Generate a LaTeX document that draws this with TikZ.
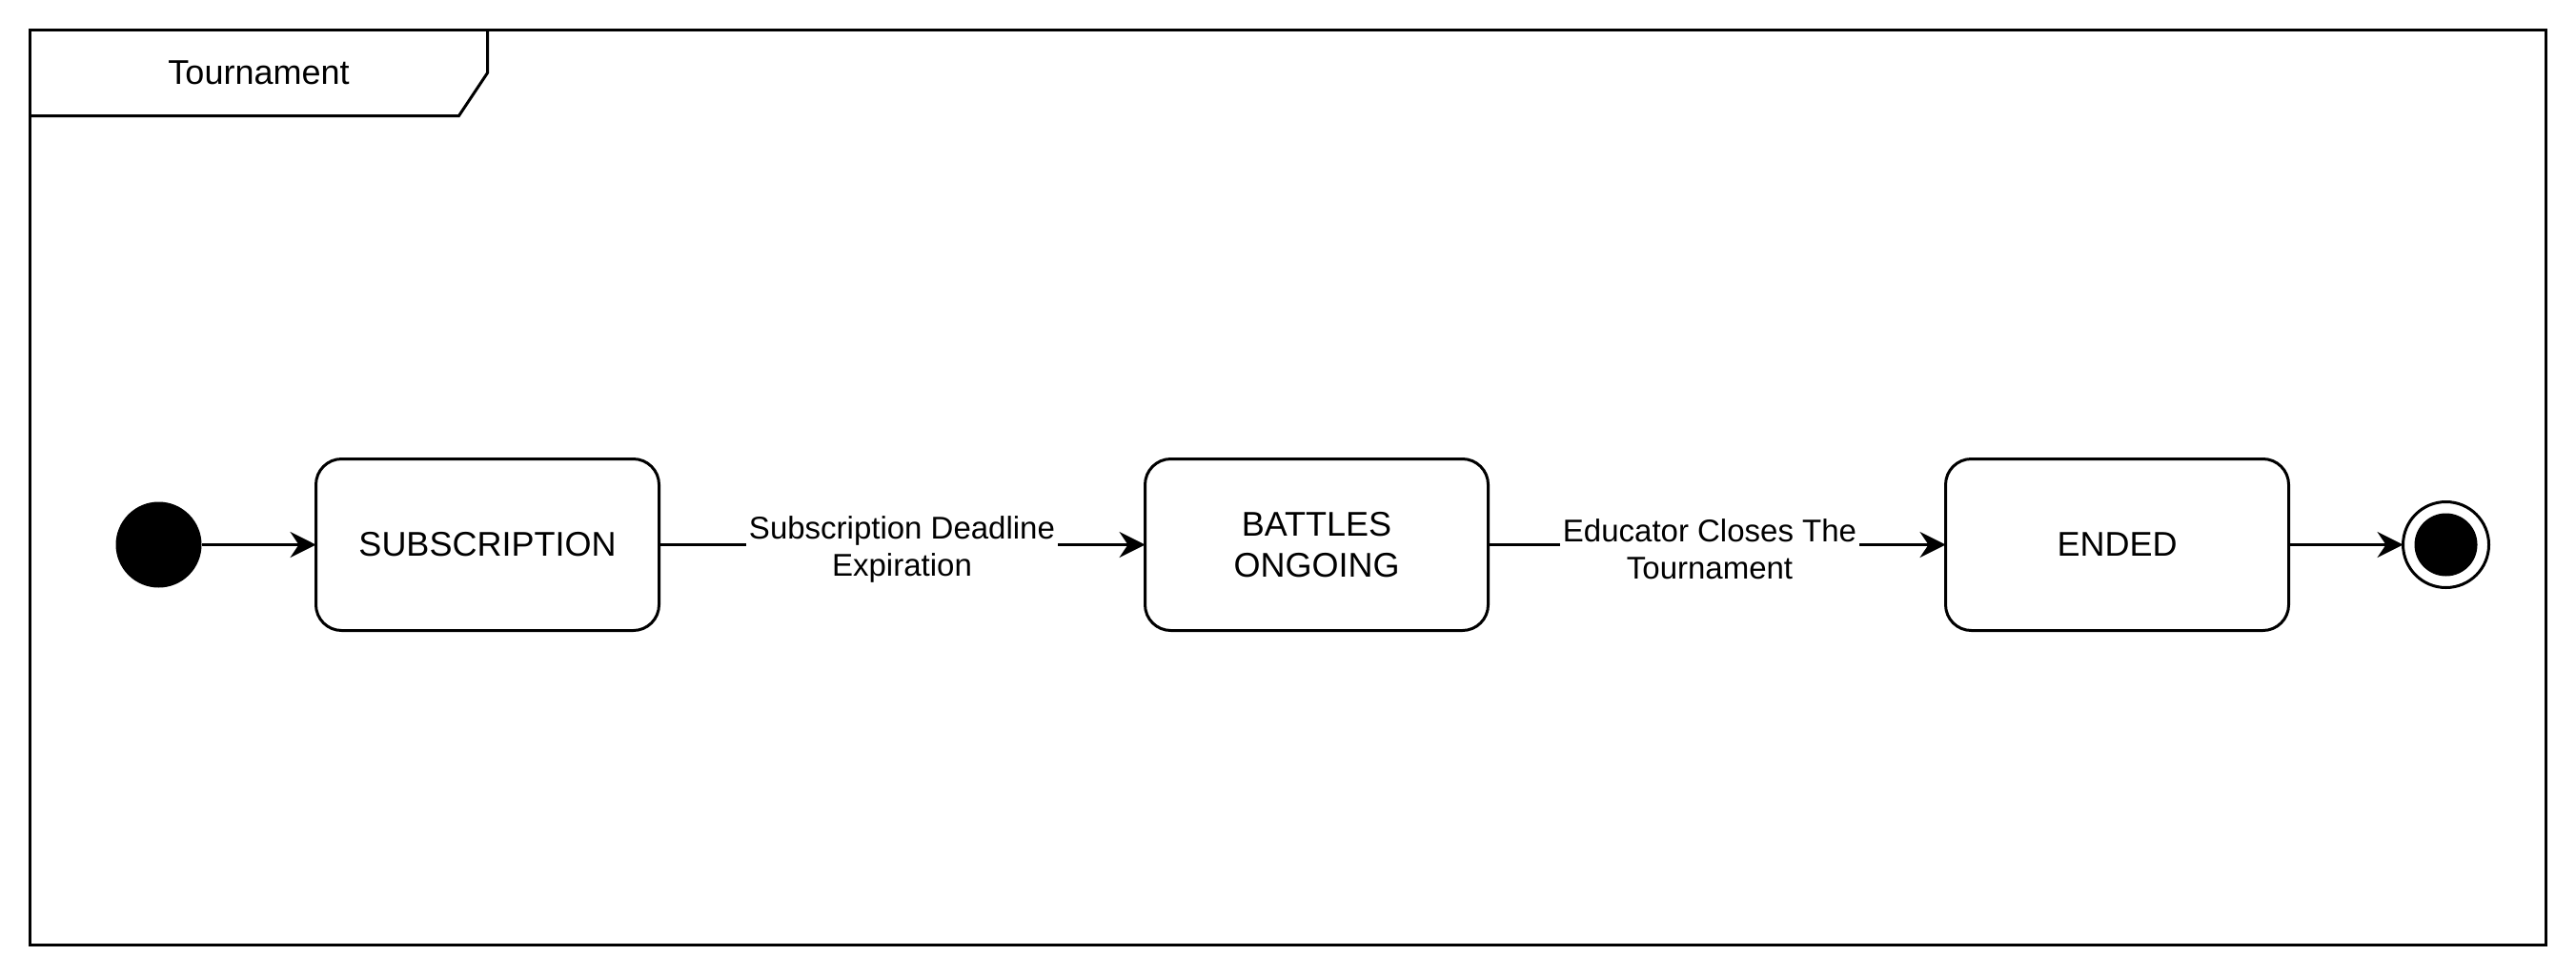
\documentclass[tikz,border=0pt]{standalone}
\usepackage{fontspec}
\setmainfont{Liberation Sans}
\usetikzlibrary{positioning,arrows.meta}
\begin{document}
\begin{tikzpicture}[x=1pt,y=1pt,line width=1pt,
    statebox/.style={rectangle,rounded corners=9pt,draw,outer sep=0pt,minimum width=120pt,minimum height=60pt,align=center,font=\fontsize{12}{14.4}\selectfont},
    translabel/.style={fill=white,inner sep=1pt,yshift=-1.5pt,align=center,font=\fontsize{11}{13}\selectfont},
    trans/.style={-{Stealth[length=9pt,width=9pt,inset=3pt]}}]
    \useasboundingbox (0,0) rectangle (901,341);
    \draw (10.5,10.5) rectangle (890.5,330.5);
    \draw (10.5,300.5) -- (160.5,300.5) -- (170.5,315.5) -- (170.5,330.5);
    \node[font=\fontsize{12}{14.4}\selectfont] (tab_title) at (90.5,315.5) {Tournament};
    \node[circle,fill,inner sep=0pt,outer sep=0pt,minimum size=30pt] (init) at (55.5,150.5) {};
    \node[statebox,right=40pt of init] (subscription) {SUBSCRIPTION};
    \node[statebox,right=170pt of subscription] (battles) {BATTLES\\ONGOING};
    \node[statebox,right=160pt of battles] (ended) {ENDED};
    \node[circle,draw,fill=white,inner sep=0pt,outer sep=0pt,minimum size=30pt,right=40pt of ended] (final) {};
    \node[circle,fill,inner sep=0pt,minimum size=22pt] (final_dot) at (final) {};

    \draw[trans] (init) -- (subscription);
    \draw[trans] (subscription) -- node[translabel] {Subscription Deadline\\Expiration} (battles);
    \draw[trans] (battles) -- node[translabel,xshift=-2.5pt] {Educator Closes The\\Tournament} (ended);
    \draw[trans] (ended) -- (final);
\end{tikzpicture}
\end{document}
